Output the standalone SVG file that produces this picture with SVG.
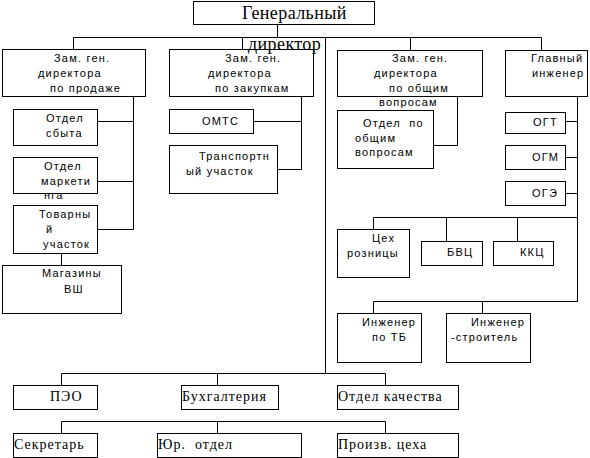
<svg xmlns="http://www.w3.org/2000/svg" width="590" height="458" viewBox="0 0 590 458">
<style>
rect{fill:#fff;stroke:#000;stroke-width:1}
.c path{fill:none;stroke:#000;stroke-width:1}
.s{font-family:"Liberation Sans",Arial,sans-serif;font-size:11px;letter-spacing:1.2px;fill:#000;white-space:pre}
.t{font-family:"Liberation Serif","Times New Roman",serif;font-size:14px;letter-spacing:1px;fill:#000;white-space:pre}
.h{font-family:"Liberation Serif","Times New Roman",serif;font-size:18px;letter-spacing:0.4px;fill:#000}
</style>
<rect x="0" y="0" width="590" height="458" style="stroke:none"/>
<g class="c">
<path d="M277.5 25 V37.5 M73.5 49 V37.5 H541.5 V50 M242.5 37.5 V49 M410.5 37.5 V50 M325.5 37.5 V373.5"/>
<path d="M133.5 97 V229.5 H97 M133.5 121.5 H97 M133.5 181.5 H97 M61.5 253 V265"/>
<path d="M301.5 97 V169.5 H277 M301.5 121.5 H253"/>
<path d="M457.5 97 V145.5 H433"/>
<path d="M577.5 97 V301.5 H373.5 V313 M577.5 121.5 H565 M577.5 157.5 H565 M577.5 193.5 H565 M577.5 217.5 H373.5 V229 M446.5 217.5 V241 M517.5 217.5 V241 M482.5 301.5 V313"/>
<path d="M61.5 385 V373.5 H385.5 V385 M217.5 373.5 V385 M61.5 433 V421.5 H385.5 V433 M217.5 421.5 V433"/>
</g>
<g id="gen-dir"><rect x="193.5" y="1.5" width="181" height="23"/><text class="h" x="242" y="19">Генеральный</text></g>
<g id="zam-prod"><rect x="2.5" y="49.5" width="143" height="47"/><text class="s"><tspan x="54" y="62">Зам. ген.</tspan><tspan x="38" y="77">директора</tspan><tspan x="50" y="92">по продаже</tspan></text></g>
<g id="zam-zak"><rect x="169.5" y="49.5" width="144" height="47"/><text class="s"><tspan x="225" y="62">Зам. ген.</tspan><tspan x="208" y="77">директора</tspan><tspan x="215" y="92">по закупкам</tspan></text></g>
<g id="zam-obsh"><rect x="337.5" y="50.5" width="145" height="46"/><text class="s"><tspan x="392" y="62">Зам. ген.</tspan><tspan x="374" y="77">директора</tspan><tspan x="389" y="92">по общим</tspan><tspan x="379" y="106">вопросам</tspan></text></g>
<g id="gl-inzh"><rect x="505.5" y="50.5" width="82" height="46"/><text class="s"><tspan x="531" y="62">Главный</tspan><tspan x="532" y="77">инженер</tspan></text></g>
<g id="otdel-sbyta"><rect x="13.5" y="109.5" width="84" height="36"/><text class="s"><tspan x="46" y="122">Отдел</tspan><tspan x="46" y="137">сбыта</tspan></text></g>
<g id="otdel-market"><rect x="13.5" y="157.5" width="84" height="36"/><text class="s"><tspan x="44" y="170">Отдел</tspan><tspan x="41" y="185">маркети</tspan><tspan x="44" y="199">нга</tspan></text></g>
<g id="tovarny"><rect x="13.5" y="205.5" width="84" height="48"/><text class="s"><tspan x="39" y="218">Товарны</tspan><tspan x="46" y="233">й</tspan><tspan x="43" y="248">участок</tspan></text></g>
<g id="magaziny"><rect x="2.5" y="265.5" width="119" height="48"/><text class="s"><tspan x="42" y="277">Магазины</tspan><tspan x="64" y="293">ВШ</tspan></text></g>
<g id="omts"><rect x="169.5" y="109.5" width="84" height="24"/><text class="s" x="202" y="125">ОМТС</text></g>
<g id="transport"><rect x="169.5" y="145.5" width="108" height="48"/><text class="s"><tspan x="199" y="160">Транспортн</tspan><tspan x="186" y="175">ый участок</tspan></text></g>
<g id="otdel-obsh"><rect x="337.5" y="110.5" width="96" height="58"/><text class="s"><tspan x="363" y="127">Отдел  по</tspan><tspan x="355" y="142">общим</tspan><tspan x="355" y="156">вопросам</tspan></text></g>
<g id="ogt"><rect x="505.5" y="112.5" width="60" height="21"/><text class="s" x="533" y="126">ОГТ</text></g>
<g id="ogm"><rect x="505.5" y="145.5" width="60" height="24"/><text class="s" x="532" y="161">ОГМ</text></g>
<g id="oge"><rect x="505.5" y="181.5" width="60" height="24"/><text class="s" x="532" y="197">ОГЭ</text></g>
<g id="tseh"><rect x="337.5" y="229.5" width="72" height="48"/><text class="s"><tspan x="372" y="242">Цех</tspan><tspan x="347" y="257">розницы</tspan></text></g>
<g id="bvc"><rect x="421.5" y="241.5" width="61" height="24"/><text class="s" x="447" y="256">БВЦ</text></g>
<g id="kkc"><rect x="493.5" y="241.5" width="60" height="24"/><text class="s" x="520" y="256">ККЦ</text></g>
<g id="inzh-tb"><rect x="337.5" y="313.5" width="84" height="49"/><text class="s"><tspan x="362" y="326">Инженер</tspan><tspan x="372" y="341">по ТБ</tspan></text></g>
<g id="inzh-str"><rect x="446.5" y="313.5" width="84" height="49"/><text class="s"><tspan x="471" y="326">Инженер</tspan><tspan x="451" y="341">-строитель</tspan></text></g>
<g id="peo"><rect x="13.5" y="385.5" width="84" height="24"/><text class="t" x="50" y="401">ПЭО</text></g>
<g id="buh"><rect x="181.5" y="385.5" width="97" height="24"/><text class="t" x="182" y="401">Бухгалтерия</text></g>
<g id="kach"><rect x="337.5" y="385.5" width="121" height="24"/><text class="t" x="338" y="401">Отдел качества</text></g>
<g id="sekr"><rect x="13.5" y="433.5" width="84" height="24"/><text class="t" x="14" y="449">Секретарь</text></g>
<g id="yur"><rect x="157.5" y="433.5" width="144" height="24"/><text class="t" x="158" y="449">Юр.  отдел</text></g>
<g id="proizv"><rect x="337.5" y="433.5" width="121" height="24"/><text class="t" x="338" y="449">Произв. цеха</text></g>
<g id="gen-dir-overflow"><text class="h" x="248" y="50">директор</text></g>
</svg>
